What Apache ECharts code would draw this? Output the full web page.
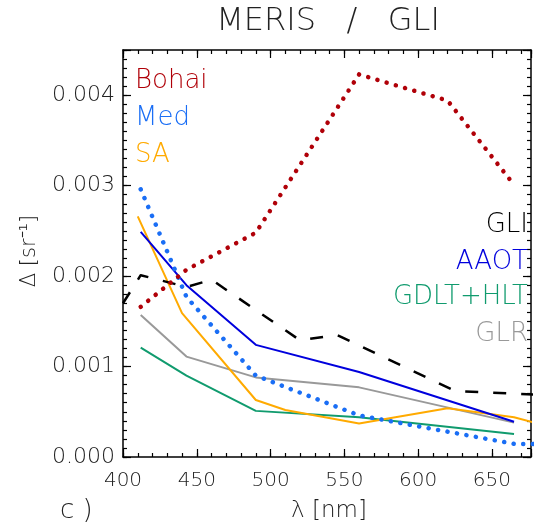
<!DOCTYPE html>
<html>
<head>
<meta charset="utf-8">
<script src="https://cdn.jsdelivr.net/npm/echarts@6/dist/echarts.min.js"></script>
<style>
  html, body { margin: 0; padding: 0; background: #fff; }
  #chart { width: 534px; height: 525px; }
</style>
</head>
<body>
<div id="chart"></div>
<script>
// Wavelengths (nm) and MERIS/GLI differences (sr^-1) for each data set
var wlBohai = [412, 443, 490, 560, 620, 665];
var bohai   = [0.00166, 0.00207, 0.00248, 0.00423, 0.00394, 0.00301];

var wlMed = [412, 443, 490, 560, 620, 665, 681];
var med   = [0.00296, 0.00177, 0.00090, 0.00046, 0.00028, 0.000145, 0.000145];

var wlSA = [410, 440, 490, 510, 560, 620, 665, 681];
var sa   = [0.00266, 0.00159, 0.00063, 0.00052, 0.00037, 0.00054, 0.00044, 0.00037];

var wlGLI = [400, 412, 443, 460, 520, 545, 625, 666, 680];
var gli   = [0.00170, 0.00201, 0.00188, 0.00196, 0.00129, 0.00135, 0.00073, 0.00070, 0.00069];

var wlAAOT = [412, 443, 490, 560, 665];
var aaot   = [0.00249, 0.00190, 0.00124, 0.00094, 0.00039];

var wlGDLT = [412, 443, 490, 560, 665];
var gdlt   = [0.00121, 0.00090, 0.00051, 0.00044, 0.000255];

var wlGLR = [412, 443, 490, 560, 665];
var glr   = [0.00157, 0.00111, 0.00088, 0.00077, 0.00038];

// Axis ranges and tick steps
var xMin = 400, xMax = 676.5, xStep = 50, xMinorStep = 10;
var yMin = 0, yMax = 0.0045, yStep = 0.001, yMinorStep = 0.0001;

var FONT = 'DejaVu Sans';
var TEXT = '#222';

function pairs(xs, ys) {
  return xs.map(function (x, i) { return [x, ys[i]]; });
}

function xAxisDef(position, step, len, withLabels, withLine) {
  return {
    type: 'value', position: position, min: xMin, max: xMax, interval: step,
    axisLine: { show: withLine, onZero: false, lineStyle: { color: '#000', width: 1.5 } },
    axisTick: { show: true, inside: true, length: len, lineStyle: { color: '#000', width: 1.2 } },
    axisLabel: {
      show: withLabels, color: TEXT, fontFamily: FONT, fontWeight: 200, fontSize: 20, margin: 14,
      formatter: function (v) { return (Math.abs(v / xStep - Math.round(v / xStep)) < 1e-6) ? String(v) : ''; }
    },
    splitLine: { show: false }
  };
}

function yAxisDef(position, step, len, withLabels, withLine) {
  return {
    type: 'value', position: position, min: yMin, max: yMax, interval: step,
    axisLine: { show: withLine, onZero: false, lineStyle: { color: '#000', width: 1.5 } },
    axisTick: { show: true, inside: true, length: len, lineStyle: { color: '#000', width: 1.2 } },
    axisLabel: {
      show: withLabels, color: TEXT, fontFamily: FONT, fontWeight: 200, fontSize: 22, margin: 8,
      formatter: function (v) {
        var k = v / yStep;
        return (Math.abs(k - Math.round(k)) < 1e-6) ? v.toFixed(3) : '';
      }
    },
    splitLine: { show: false }
  };
}

function lineSeries(name, xs, ys, color, width, type, cap) {
  return {
    name: name, type: 'line', xAxisIndex: 0, yAxisIndex: 0,
    data: pairs(xs, ys), showSymbol: false, symbol: 'none', clip: true,
    lineStyle: { color: color, width: width, type: type, cap: cap || 'butt', join: 'round' },
    emphasis: { disabled: true }, animation: false
  };
}

var dots = [0.1, 9.5];
var dashes = [13, 15];

var chart = echarts.init(document.getElementById('chart'), null, { renderer: 'canvas' });

var option = {
  backgroundColor: '#fff',
  animation: false,
  grid: { left: 123, right: 1, top: 50, bottom: 68, containLabel: false },
  xAxis: [
    xAxisDef('bottom', xStep, 8, true, true),
    xAxisDef('bottom', xMinorStep, 4, false, false),
    xAxisDef('top', xStep, 8, false, true),
    xAxisDef('top', xMinorStep, 4, false, false)
  ],
  yAxis: [
    yAxisDef('left', yStep, 8, true, true),
    yAxisDef('left', yMinorStep, 4, false, false),
    yAxisDef('right', yStep, 8, false, true),
    yAxisDef('right', yMinorStep, 4, false, false)
  ],
  series: [
    lineSeries('GLR', wlGLR, glr, '#999999', 2),
    lineSeries('GDLT+HLT', wlGDLT, gdlt, '#109b6e', 2),
    lineSeries('SA', wlSA, sa, '#ffaa00', 2),
    lineSeries('AAOT', wlAAOT, aaot, '#0000dd', 2),
    lineSeries('GLI', wlGLI, gli, '#000000', 2.5, dashes),
    lineSeries('Med', wlMed, med, '#1a6ef5', 4.5, dots, 'round'),
    lineSeries('Bohai', wlBohai, bohai, '#b00008', 4.5, dots, 'round')
  ],
  graphic: [
    { type: 'text', x: 328, y: 22, style: { text: 'MERIS   /   GLI', fill: TEXT, font: '200 32px ' + FONT, align: 'center', verticalAlign: 'middle' }, z: 10 },
    { type: 'text', x: 30, y: 251, rotation: Math.PI / 2, style: { text: 'Δ [sr⁻¹]', fill: TEXT, font: '200 21px ' + FONT, align: 'center', verticalAlign: 'middle' }, z: 10 },
    { type: 'text', x: 329, y: 511, style: { text: 'λ [nm]', fill: TEXT, font: '200 23px ' + FONT, align: 'center', verticalAlign: 'middle' }, z: 10 },
    { type: 'text', x: 60, y: 511, style: { text: 'c )', fill: TEXT, font: '200 26px ' + FONT, align: 'left', verticalAlign: 'middle' }, z: 10 },

    { type: 'text', x: 135, y: 81, style: { text: 'Bohai', fill: '#b00008', font: '200 26px ' + FONT, align: 'left', verticalAlign: 'middle' }, z: 10 },
    { type: 'text', x: 135, y: 118, style: { text: 'Med', fill: '#1a6ef5', font: '200 26px ' + FONT, align: 'left', verticalAlign: 'middle' }, z: 10 },
    { type: 'text', x: 135, y: 155, style: { text: 'SA', fill: '#ffaa00', font: '200 26px ' + FONT, align: 'left', verticalAlign: 'middle' }, z: 10 },

    { type: 'text', x: 528, y: 225, style: { text: 'GLI', fill: '#000000', font: '200 26px ' + FONT, align: 'right', verticalAlign: 'middle' }, z: 10 },
    { type: 'text', x: 528, y: 262, style: { text: 'AAOT', fill: '#0000dd', font: '200 26px ' + FONT, align: 'right', verticalAlign: 'middle' }, z: 10 },
    { type: 'text', x: 528, y: 297, style: { text: 'GDLT+HLT', fill: '#109b6e', font: '200 26px ' + FONT, align: 'right', verticalAlign: 'middle' }, z: 10 },
    { type: 'text', x: 528, y: 334, style: { text: 'GLR', fill: '#999999', font: '200 26px ' + FONT, align: 'right', verticalAlign: 'middle' }, z: 10 }
  ]
};

chart.setOption(option);
</script>
</body>
</html>
